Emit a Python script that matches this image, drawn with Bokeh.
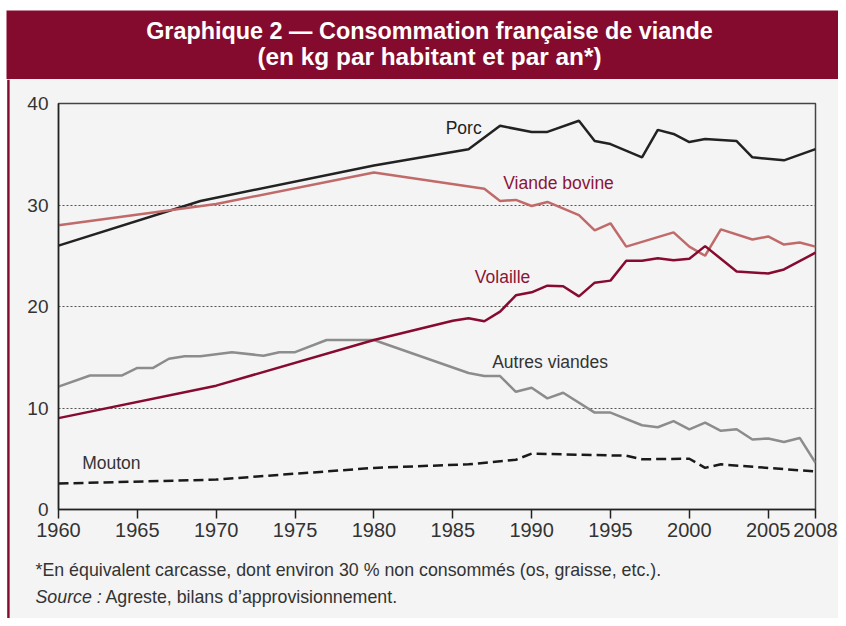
from bokeh.plotting import figure
from bokeh.layouts import column, row
from bokeh.models import Label, BoxAnnotation, FixedTicker, Range1d
from bokeh.embed import file_html
from bokeh.resources import INLINE

# ---------------- data (kg per inhabitant per year) ----------------
porc_years = [1960, 1969, 1980, 1986, 1988, 1990, 1991, 1993, 1994, 1995, 1997, 1998,
              1999, 2000, 2001, 2003, 2004, 2006, 2008]
porc_vals = [26.0, 30.4, 33.9, 35.5, 37.8, 37.2, 37.2, 38.3, 36.3, 36.0, 34.7, 37.4,
             37.0, 36.2, 36.5, 36.3, 34.7, 34.4, 35.5]

bovine_years = [1960, 1970, 1980, 1987, 1988, 1989, 1990, 1991, 1993, 1994, 1995, 1996,
                1999, 2000, 2001, 2002, 2004, 2005, 2006, 2007, 2008]
bovine_vals = [28.0, 30.1, 33.2, 31.6, 30.4, 30.5, 29.9, 30.3, 29.0, 27.5, 28.2, 25.9,
               27.3, 25.9, 25.0, 27.6, 26.6, 26.9, 26.1, 26.3, 25.9]

volaille_years = [1960, 1970, 1980, 1985, 1986, 1987, 1988, 1989, 1990, 1991, 1992, 1993,
                  1994, 1995, 1996, 1997, 1998, 1999, 2000, 2001, 2003, 2005, 2006, 2008]
volaille_vals = [9.0, 12.2, 16.7, 18.6, 18.85, 18.55, 19.5, 21.1, 21.4, 22.05, 22.0, 21.0,
                 22.35, 22.55, 24.5, 24.5, 24.75, 24.55, 24.7, 25.95, 23.45, 23.25, 23.65, 25.3]

autres_years = [1960, 1962, 1964, 1965, 1966, 1967, 1968, 1969, 1971, 1973, 1974, 1975,
                1977, 1980, 1986, 1987, 1988, 1989, 1990, 1991, 1992, 1994, 1995, 1997,
                1998, 1999, 2000, 2001, 2002, 2003, 2004, 2005, 2006, 2007, 2008]
autres_vals = [12.1, 13.2, 13.2, 13.95, 13.95, 14.85, 15.1, 15.1, 15.5, 15.15, 15.5, 15.5,
               16.7, 16.7, 13.45, 13.15, 13.15, 11.6, 12.0, 10.95, 11.5, 9.55, 9.55, 8.3,
               8.1, 8.7, 7.9, 8.55, 7.75, 7.9, 6.9, 7.0, 6.65, 7.05, 4.6]

mouton_years = [1960, 1970, 1980, 1986, 1989, 1990, 1996, 1997, 2000, 2001, 2002, 2008]
mouton_vals = [2.55, 2.95, 4.1, 4.45, 4.9, 5.5, 5.3, 4.95, 5.0, 4.1, 4.45, 3.75]

x_ticks = [1960, 1965, 1970, 1975, 1980, 1985, 1990, 1995, 2000, 2005, 2008]
y_ticks = [0, 10, 20, 30, 40]

title_line1 = "Graphique 2 — Consommation française de viande"
title_line2 = "(en kg par habitant et par an*)"
note_line1 = "*En équivalent carcasse, dont environ 30 % non consommés (os, graisse, etc.)."
note_source = "Source :"
note_line2 = "Agreste, bilans d’approvisionnement."

# ---------------- styling ----------------
FONT = "Liberation Sans"
DARK_RED = "#850b2e"
BG = "#f4f4f4"
W, H = 838, 618
BANNER_H = 79
FOOT_H = 70
LEFT_W = 10


def blank_fig(w, h, fill):
    f = figure(width=w, height=h, output_backend="svg", toolbar_location=None,
               x_range=Range1d(0, w), y_range=Range1d(h, 0),
               x_axis_location=None, y_axis_location=None,
               min_border=0, min_border_left=0, min_border_right=0,
               min_border_top=0, min_border_bottom=0,
               background_fill_color=fill, border_fill_color=fill)
    f.grid.visible = False
    f.outline_line_color = None
    return f


# ---- banner ----
banner = blank_fig(W, BANNER_H, "white")
banner.add_layout(BoxAnnotation(left=6, right=W, top=10, bottom=BANNER_H,
                                fill_color=DARK_RED, fill_alpha=1, line_color=None))
banner.add_layout(Label(x=429, y=30.5, text=title_line1, text_font=FONT,
                        text_font_size="23.4px", text_font_style="bold", text_color="white",
                        text_align="center", text_baseline="alphabetic"))
banner.add_layout(Label(x=429, y=56, text=title_line2, text_font=FONT,
                        text_font_size="24.4px", text_font_style="bold", text_color="white",
                        text_align="center", text_baseline="alphabetic"))

# ---- left edge with red rule ----
left = blank_fig(LEFT_W, H - BANNER_H, "white")
left.add_layout(BoxAnnotation(left=6.7, right=9.3, top=0, bottom=H - BANNER_H,
                              fill_color=DARK_RED, fill_alpha=1, line_color=None))
left.add_layout(BoxAnnotation(left=9.3, right=LEFT_W, top=0, bottom=H - BANNER_H,
                              fill_color=BG, fill_alpha=1, line_color=None))

# ---- main chart ----
p = figure(width=W - LEFT_W, height=H - BANNER_H - FOOT_H, output_backend="svg",
           toolbar_location=None,
           x_range=Range1d(1960, 2008), y_range=Range1d(0, 40),
           min_border_left=48, min_border_right=23, min_border_top=24, min_border_bottom=39,
           background_fill_color=BG, border_fill_color=BG)

p.xaxis.ticker = FixedTicker(ticks=x_ticks)
p.yaxis.ticker = FixedTicker(ticks=y_ticks)
for ax in (p.xaxis[0], p.yaxis[0]):
    ax.major_label_text_font = FONT
    ax.major_label_text_color = "#333333"
    ax.axis_line_color = "#222222"
    ax.axis_line_width = 1.5
    ax.minor_tick_line_color = None
    ax.major_tick_line_color = "#222222"
    ax.major_tick_line_width = 1.5
p.xaxis.major_label_text_font_size = "20px"
p.xaxis.major_tick_out = 9
p.xaxis.major_tick_in = 0
p.xaxis.major_label_standoff = 4
p.yaxis.major_label_text_font_size = "19px"
p.yaxis.major_tick_out = 0
p.yaxis.major_tick_in = 0
p.yaxis.major_label_standoff = 10

p.xgrid.visible = False
p.ygrid.ticker = FixedTicker(ticks=[10, 20, 30])
p.ygrid.grid_line_color = "#555555"
p.ygrid.grid_line_dash = "2 2"
p.ygrid.grid_line_width = 1

p.outline_line_color = "#444444"
p.outline_line_width = 1.5

p.line(porc_years, porc_vals, line_color="#222222", line_width=2.5)
p.line(bovine_years, bovine_vals, line_color="#c06a6a", line_width=2.5)
p.line(autres_years, autres_vals, line_color="#8c8c8c", line_width=2.5)
p.line(volaille_years, volaille_vals, line_color="#870a30", line_width=2.5)
p.line(mouton_years, mouton_vals, line_color="#1a1a1a", line_width=2.5, line_dash="10 5")

series_labels = [
    ("Porc", 1984.55, 37.6, "#222222"),
    ("Viande bovine", 1988.2, 32.15, "#8a1538"),
    ("Volaille", 1986.4, 22.9, "#8a1538"),
    ("Autres viandes", 1987.5, 14.55, "#333333"),
    ("Mouton", 1961.5, 4.6, "#333333"),
]
for txt, lx, ly, col in series_labels:
    p.add_layout(Label(x=lx, y=ly, text=txt, text_font=FONT, text_font_size="17.5px",
                       text_color=col, text_baseline="middle", text_align="left"))

# ---- footnotes ----
foot = blank_fig(W - LEFT_W, FOOT_H, BG)
foot.add_layout(Label(x=25, y=21.5, text=note_line1, text_font=FONT, text_font_size="17.8px",
                      text_color="#333333", text_align="left", text_baseline="alphabetic"))
foot.add_layout(Label(x=25, y=48.5, text=note_source, text_font=FONT, text_font_size="17.8px",
                      text_font_style="italic", text_color="#333333",
                      text_align="left", text_baseline="alphabetic"))
foot.add_layout(Label(x=95, y=48.5, text=note_line2, text_font=FONT, text_font_size="17.8px",
                      text_color="#333333", text_align="left", text_baseline="alphabetic"))

layout = column(banner,
                row(left,
                    column(p, row(foot, spacing=0), spacing=0,
                           styles={"background-color": BG}),
                    spacing=0),
                spacing=0)

open("out.html", "w").write(file_html(layout, INLINE))
